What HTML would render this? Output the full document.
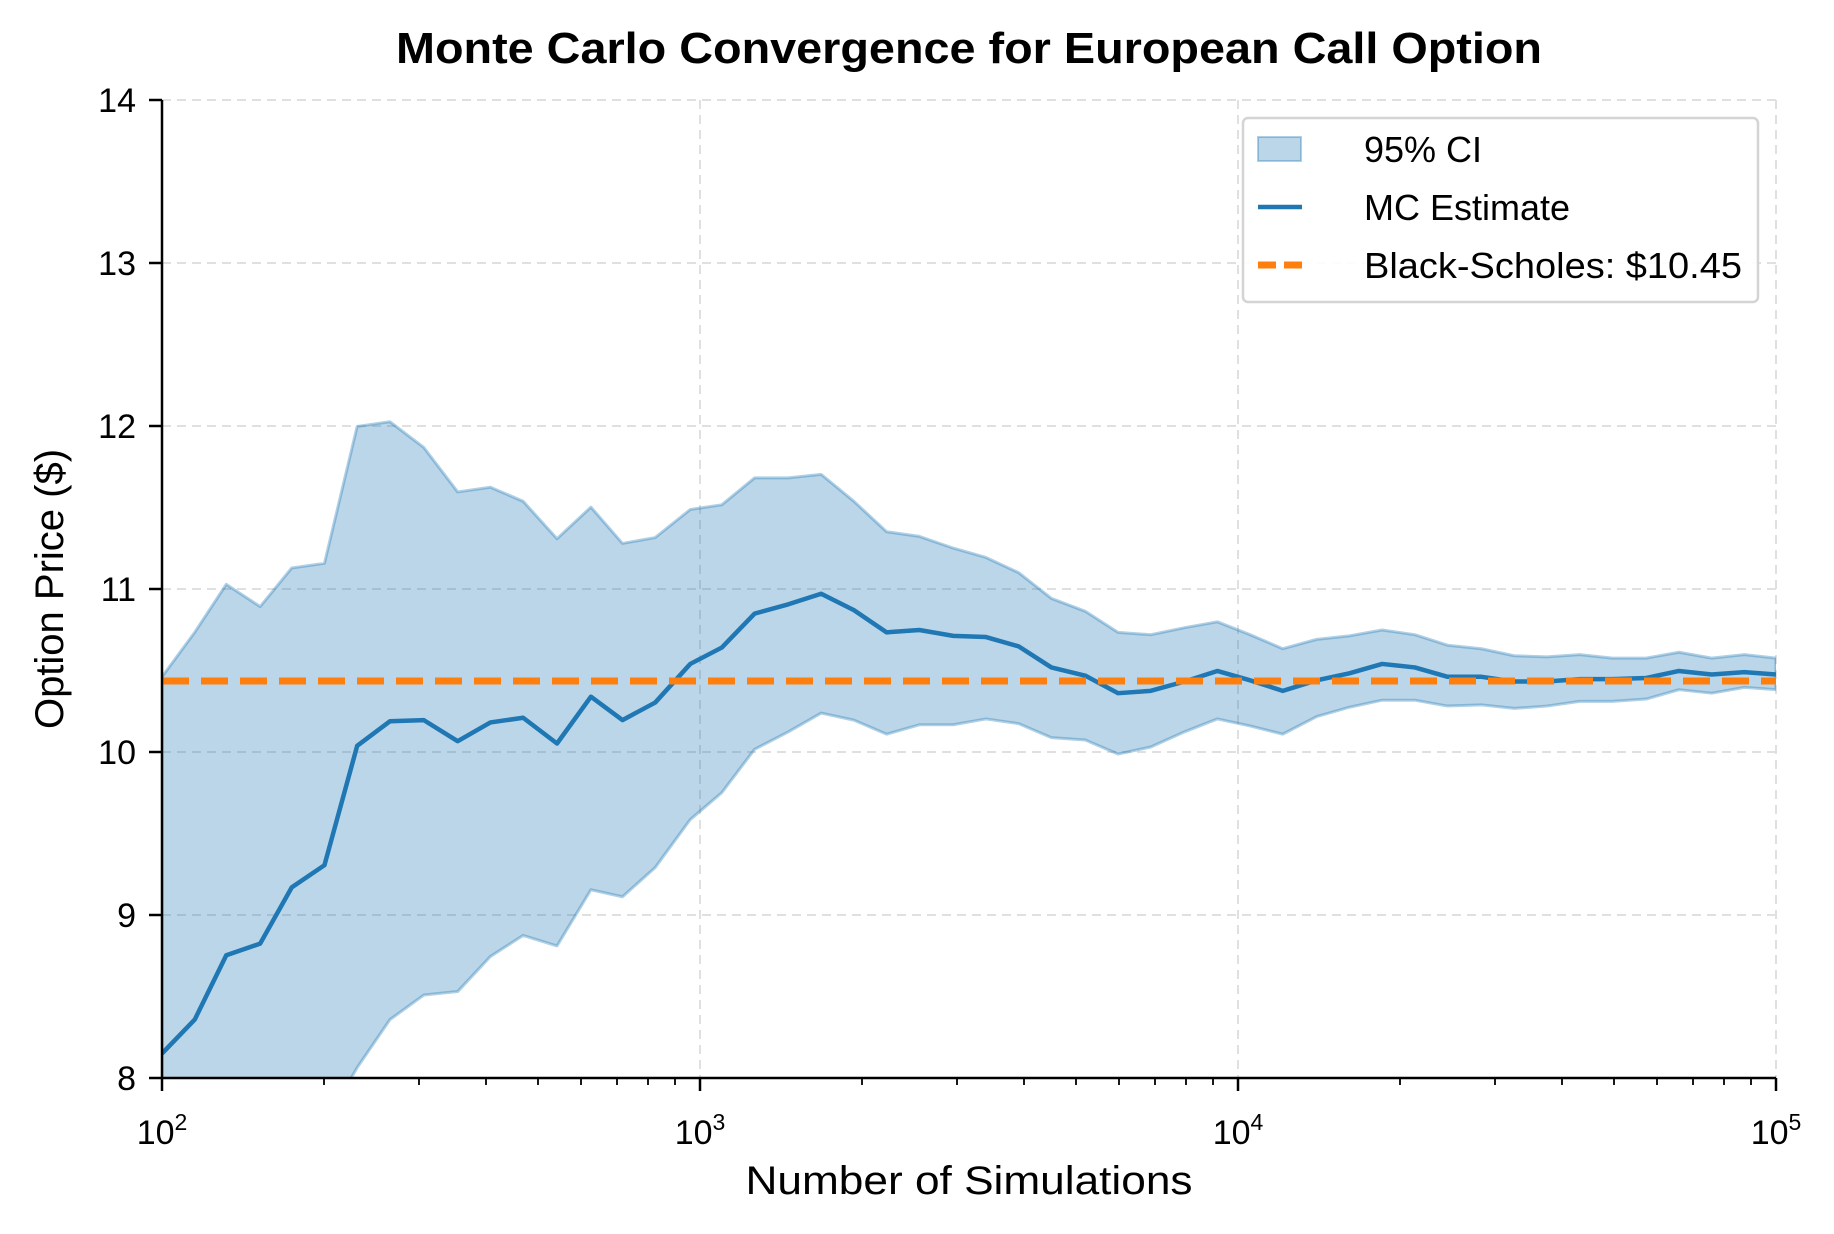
<!DOCTYPE html>
<html><head><meta charset="utf-8"><style>
html,body{margin:0;padding:0;background:#fff;overflow:hidden;width:1834px;height:1234px;}
svg{display:block;font-family:"Liberation Sans",sans-serif;}
</style></head><body>
<svg width="1834" height="1234" viewBox="0 0 1834 1234" xmlns="http://www.w3.org/2000/svg">
<defs><clipPath id="c"><rect x="138" y="85" width="1381" height="836"/></clipPath></defs>
<rect width="1834" height="1234" fill="#fff"/>
<g stroke="#e0e0e0" stroke-width="2" stroke-dasharray="9,6">
<line x1="162" y1="100" x2="1776" y2="100"/>
<line x1="162" y1="263" x2="1776" y2="263"/>
<line x1="162" y1="426" x2="1776" y2="426"/>
<line x1="162" y1="589" x2="1776" y2="589"/>
<line x1="162" y1="752" x2="1776" y2="752"/>
<line x1="162" y1="915" x2="1776" y2="915"/>
<line x1="700" y1="100" x2="700" y2="1078"/>
<line x1="1238" y1="100" x2="1238" y2="1078"/>
<line x1="1776" y1="100" x2="1776" y2="1078"/>
</g>
<g transform="translate(162,100) scale(1.1687,1.17) translate(-138,-85)" clip-path="url(#c)">
<path fill="#1f77b4" fill-opacity="0.3" stroke="#1f77b4" stroke-opacity="0.35" stroke-width="3" vector-effect="non-scaling-stroke" stroke-linejoin="round" d="M138,578 L166,540 193,499 222,518 249,485 277,481 305,364 333,360 362,382 391,420 419,416 447,428 476,460 505,433 532,464 560,459 590,435 617,431 645,408 674,408 702,405 730,428 758,454 786,458 815,468 843,476 871,489 899,511 928,522 956,540 984,542 1013,536 1041,531 1069,542 1097,554 1126,546 1154,543 1182,538 1210,542 1238,551 1267,554 1295,560 1323,561 1351,559 1379,562 1408,562 1436,557 1464,562 1492,559 1519,562 L1519,589 1492,587 1464,592 1436,589 1408,597 1379,599 1351,599 1323,603 1295,605 1267,602 1238,603 1210,598 1182,598 1154,604 1126,612 1097,627 1069,620 1041,614 1013,625 984,638 956,644 928,632 899,630 871,618 843,614 815,619 786,619 758,627 730,615 702,609 674,625 645,640 617,677 590,700 560,741 532,766 505,760 476,808 447,799 419,817 391,847 362,850 333,871 305,912 277,960 249,1000 222,1040 193,1080 166,1120 138,1160 Z"/>
<path fill="none" stroke="#1f77b4" stroke-width="4.5" vector-effect="non-scaling-stroke" stroke-linejoin="round" d="M138,900 L166,871 193,816 222,806 249,758 277,739 305,637 333,616 362,615 391,633 419,617 447,613 476,635 505,595 532,615 560,600 590,567 617,553 645,524 674,516 702,507 730,521 758,540 786,538 815,543 843,544 871,552 899,570 928,577 956,592 984,590 1013,582 1041,573 1069,581 1097,590 1126,581 1154,575 1182,567 1210,570 1238,578 1267,578 1295,582 1323,582 1351,580 1379,580 1408,579 1436,573 1464,576 1492,574 1519,576"/>
</g>
<line x1="162" y1="681" x2="1776" y2="681" stroke="#ff7f0e" stroke-width="7" stroke-dasharray="27,12"/>
<line x1="162" y1="100" x2="162" y2="1079" stroke="#000" stroke-width="2.5"/>
<line x1="161" y1="1078" x2="1776" y2="1078" stroke="#000" stroke-width="2.5"/>
<g stroke="#000" stroke-width="2.5">
<line x1="149" y1="100" x2="162" y2="100"/><line x1="149" y1="263" x2="162" y2="263"/><line x1="149" y1="426" x2="162" y2="426"/><line x1="149" y1="589" x2="162" y2="589"/><line x1="149" y1="752" x2="162" y2="752"/><line x1="149" y1="915" x2="162" y2="915"/><line x1="149" y1="1078" x2="162" y2="1078"/>
<line x1="162" y1="1078" x2="162" y2="1091"/><line x1="700" y1="1078" x2="700" y2="1091"/><line x1="1238" y1="1078" x2="1238" y2="1091"/><line x1="1776" y1="1078" x2="1776" y2="1091"/>
</g>
<g stroke="#000" stroke-width="1.8">
<line x1="324" y1="1078" x2="324" y2="1085"/><line x1="419" y1="1078" x2="419" y2="1085"/><line x1="486" y1="1078" x2="486" y2="1085"/><line x1="538" y1="1078" x2="538" y2="1085"/><line x1="581" y1="1078" x2="581" y2="1085"/><line x1="617" y1="1078" x2="617" y2="1085"/><line x1="648" y1="1078" x2="648" y2="1085"/><line x1="675" y1="1078" x2="675" y2="1085"/>
<line x1="862" y1="1078" x2="862" y2="1085"/><line x1="957" y1="1078" x2="957" y2="1085"/><line x1="1024" y1="1078" x2="1024" y2="1085"/><line x1="1076" y1="1078" x2="1076" y2="1085"/><line x1="1119" y1="1078" x2="1119" y2="1085"/><line x1="1155" y1="1078" x2="1155" y2="1085"/><line x1="1186" y1="1078" x2="1186" y2="1085"/><line x1="1213" y1="1078" x2="1213" y2="1085"/>
<line x1="1400" y1="1078" x2="1400" y2="1085"/><line x1="1495" y1="1078" x2="1495" y2="1085"/><line x1="1562" y1="1078" x2="1562" y2="1085"/><line x1="1614" y1="1078" x2="1614" y2="1085"/><line x1="1657" y1="1078" x2="1657" y2="1085"/><line x1="1693" y1="1078" x2="1693" y2="1085"/><line x1="1724" y1="1078" x2="1724" y2="1085"/><line x1="1751" y1="1078" x2="1751" y2="1085"/>
</g>
<g font-size="34" text-anchor="end" fill="#000">
<text x="136" y="112">14</text><text x="136" y="275">13</text><text x="136" y="438">12</text><text x="136" y="601">11</text><text x="136" y="764">10</text><text x="136" y="927">9</text><text x="136" y="1090">8</text>
</g>
<g font-size="34" text-anchor="middle" fill="#000">
<text x="162" y="1144">10<tspan dy="-14" font-size="23">2</tspan></text>
<text x="700" y="1144">10<tspan dy="-14" font-size="23">3</tspan></text>
<text x="1238" y="1144">10<tspan dy="-14" font-size="23">4</tspan></text>
<text x="1776" y="1144">10<tspan dy="-14" font-size="23">5</tspan></text>
</g>
<text x="969" y="1194" font-size="40" text-anchor="middle" textLength="447" lengthAdjust="spacingAndGlyphs">Number of Simulations</text>
<text transform="translate(63,589) rotate(-90)" font-size="40" text-anchor="middle">Option Price ($)</text>
<text x="969" y="63" font-size="44" font-weight="bold" text-anchor="middle" textLength="1146" lengthAdjust="spacingAndGlyphs">Monte Carlo Convergence for European Call Option</text>
<rect x="1243" y="118" width="515" height="184" rx="5" fill="#fff" fill-opacity="0.9" stroke="#d4d4d4" stroke-width="2.5"/>
<rect x="1258" y="137" width="43" height="24" fill="#1f77b4" fill-opacity="0.3" stroke="#1f77b4" stroke-opacity="0.35" stroke-width="2"/>
<line x1="1258" y1="207" x2="1302" y2="207" stroke="#1f77b4" stroke-width="4.5"/>
<line x1="1258" y1="265" x2="1302" y2="265" stroke="#ff7f0e" stroke-width="7" stroke-dasharray="18,8"/>
<g font-size="36" fill="#000">
<text x="1364" y="162">95% CI</text>
<text x="1364" y="220">MC Estimate</text>
<text x="1364" y="278" textLength="378" lengthAdjust="spacingAndGlyphs">Black-Scholes: $10.45</text>
</g>
</svg>
</body></html>
